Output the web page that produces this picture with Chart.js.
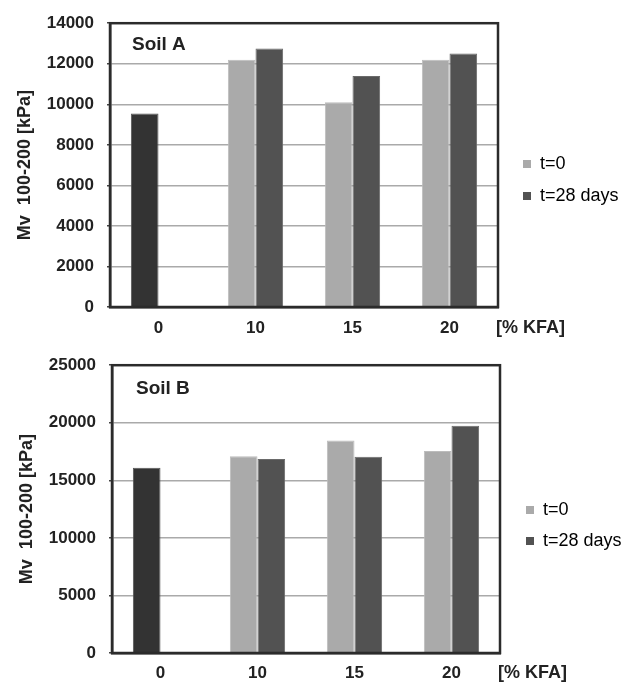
<!DOCTYPE html>
<html>
<head>
<meta charset="utf-8">
<script src="https://cdn.jsdelivr.net/npm/chart.js@4.4.1/dist/chart.umd.min.js"></script>
<style>
  body { margin: 0; background: #fff; }
  .panel { position: absolute; left: 0; width: 635px; height: 342px; }
</style>
</head>
<body>
<div class="panel" style="top:0"><canvas id="chart-a" width="635" height="342"></canvas></div>
<div class="panel" style="top:342px"><canvas id="chart-b" width="635" height="342"></canvas></div>
<script>
const CATEGORIES = ['0', '10', '15', '20'];
const SERIES_LABELS = ['t=0', 't=28 days'];

const SOIL_A_T0 = [9550, 12200, 10100, 12200];
const SOIL_A_T28 = [null, 12750, 11400, 12500];
const SOIL_A_TICKS = [0, 2000, 4000, 6000, 8000, 10000, 12000, 14000];

const SOIL_B_T0 = [16100, 17100, 18450, 17550];
const SOIL_B_T28 = [null, 16850, 17050, 19750];
const SOIL_B_TICKS = [0, 5000, 10000, 15000, 20000, 25000];

const FONT = 'Arial, "Liberation Sans", sans-serif';
const COLOR_REF = '#333333';   // 0 % KFA bar
const COLOR_T0 = '#aaaaaa';
const COLOR_T28 = '#525252';

Chart.defaults.font.family = FONT;
Chart.defaults.color = '#222';

// frame, panel title, unit label, and legend placement
const panelDecor = {
  id: 'panelDecor',
  afterLayout(chart, args, opts) {
    const lg = chart.legend;
    if (!lg) return;
    const pad = chart.options.plugins.legend.labels.padding;
    lg.left = opts.legendX - pad;
    lg.right = lg.left + 130;
    lg.top = opts.legendY - pad;
    lg.bottom = lg.top + 200;
  },
  afterDraw(chart, args, opts) {
    const { ctx, chartArea: a } = chart;
    ctx.save();
    ctx.strokeStyle = '#2b2b2b';
    ctx.lineWidth = 2.5;
    ctx.strokeRect(a.left, a.top, a.right - a.left, a.bottom - a.top);
    ctx.fillStyle = '#222';
    ctx.textBaseline = 'middle';
    ctx.textAlign = 'left';
    ctx.font = 'bold 19px ' + FONT;
    ctx.fillText(opts.title, a.left + opts.titleDx, a.top + opts.titleDy);
    ctx.font = 'bold 18px ' + FONT;
    ctx.fillText('[% KFA]', a.right - 2, a.bottom + opts.unitDy);
    ctx.restore();
  }
};

function makePanel(canvasId, t0, t28, ticks, geo) {
  const ctx = document.getElementById(canvasId);
  return new Chart(ctx, {
    type: 'bar',
    data: {
      labels: CATEGORIES,
      datasets: [
        {
          label: SERIES_LABELS[0],
          data: t0,
          backgroundColor: t0.map((_, i) => i === 0 ? COLOR_REF : COLOR_T0),
          borderColor: t0.map((_, i) => i === 0 ? '#555' : '#bcbcbc'),
          borderWidth: 1
        },
        {
          label: SERIES_LABELS[1],
          data: t28,
          backgroundColor: COLOR_T28,
          borderColor: '#6a6a6a',
          borderWidth: 1
        }
      ]
    },
    options: {
      responsive: false,
      animation: false,
      categoryPercentage: 0.57,
      barPercentage: 1.0,
      layout: { padding: { top: geo.top, right: geo.right, left: 0, bottom: 0 } },
      plugins: {
        tooltip: { enabled: false },
        legend: {
          position: 'chartArea',
          align: 'start',
          labels: {
            font: { size: 18 },
            color: '#222',
            boxWidth: 8,
            boxHeight: 8,
            padding: geo.legendPad,
            generateLabels: () => [
              { text: SERIES_LABELS[0], fillStyle: COLOR_T0, strokeStyle: COLOR_T0, lineWidth: 0, datasetIndex: 0 },
              { text: SERIES_LABELS[1], fillStyle: COLOR_T28, strokeStyle: COLOR_T28, lineWidth: 0, datasetIndex: 1 }
            ]
          }
        },
        panelDecor: {
          title: geo.title,
          titleDx: geo.titleDx,
          titleDy: geo.titleDy,
          unitDy: geo.unitDy,
          legendX: geo.legendX,
          legendY: geo.legendY
        }
      },
      scales: {
        x: {
          afterFit: axis => { axis.height = geo.xHeight; },
          grid: { display: false, drawTicks: false, tickLength: 0 },
          border: { display: true, color: '#333', width: 2.5 },
          ticks: { font: { size: 17, weight: 'bold' }, color: '#222', padding: geo.xPad }
        },
        y: {
          min: ticks[0],
          max: ticks[ticks.length - 1],
          afterFit: axis => { axis.width = geo.yWidth; },
          grid: { color: '#aaaaaa', lineWidth: 1.5, tickLength: 3, tickColor: '#444', drawTicks: true },
          border: { display: true, color: '#333', width: 2.5 },
          ticks: {
            stepSize: ticks[1] - ticks[0],
            font: { size: 17, weight: 'bold' },
            color: '#222',
            padding: 13,
            callback: v => String(v)
          },
          title: {
            display: true,
            text: 'Mv  100-200 [kPa]',
            font: { size: 18, weight: 'bold' },
            color: '#222',
            padding: { top: geo.yTitlePad, bottom: 0 }
          }
        }
      }
    },
    plugins: [panelDecor]
  });
}

makePanel('chart-a', SOIL_A_T0, SOIL_A_T28, SOIL_A_TICKS, {
  top: 19, right: 137, yWidth: 110, xHeight: 35, xPad: 11, yTitlePad: 14,
  title: 'Soil A', titleDx: 22, titleDy: 22, unitDy: 21,
  legendX: 523, legendY: 155, legendPad: 14
});

makePanel('chart-b', SOIL_B_T0, SOIL_B_T28, SOIL_B_TICKS, {
  top: 20, right: 135, yWidth: 112, xHeight: 31, xPad: 10, yTitlePad: 16,
  title: 'Soil B', titleDx: 24, titleDy: 24, unitDy: 20,
  legendX: 526, legendY: 159, legendPad: 13
});
</script>
</body>
</html>
